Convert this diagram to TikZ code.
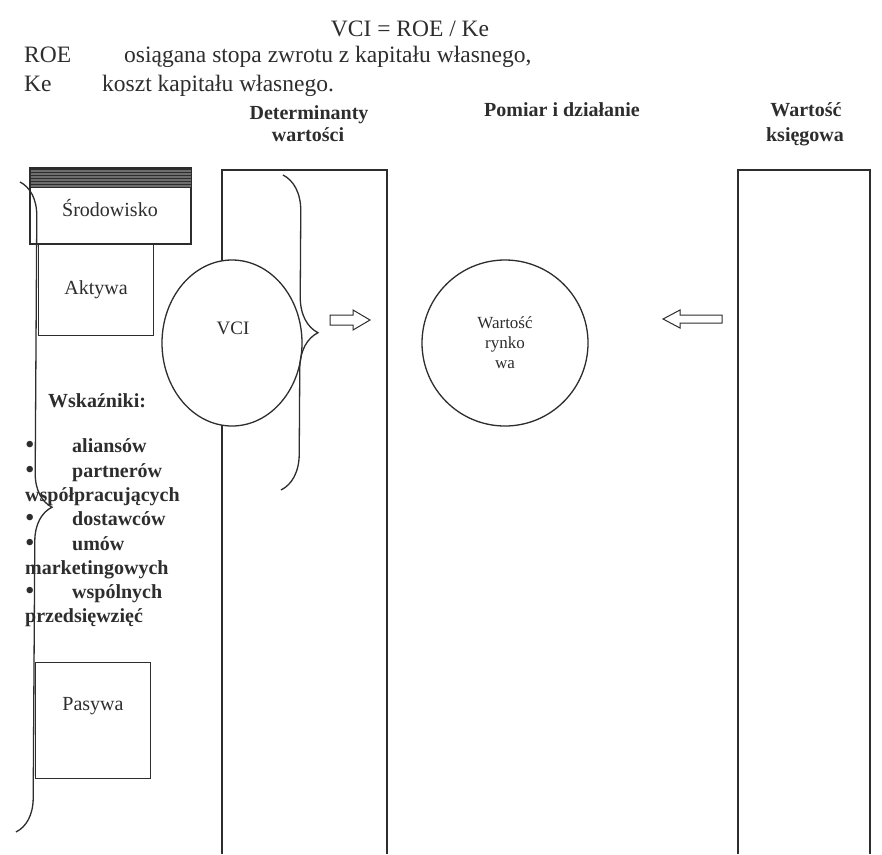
\documentclass[tikz,border=0pt]{standalone}
\usepackage{fontspec}
\setmainfont{Liberation Serif}
\usepackage{tikz}
\usetikzlibrary{
    shapes.geometric,
    positioning,
    calc,
    decorations.pathreplacing,
    patterns
}
\definecolor{inkgray}{RGB}{45, 45, 45}
\definecolor{hatchgray}{RGB}{110, 110, 110}
\tikzstyle{frame} = [
    draw=inkgray,
    line width=1.3pt
]
\tikzstyle{bigbrace} = [
    draw=inkgray,
    line width=1.3pt,
    decorate,
    decoration={brace, amplitude=34pt}
]
\tikzstyle{hollowarrow} = [
    draw=inkgray,
    line width=1pt,
    fill=white
]
\tikzstyle{legend} = [
    font=\fontsize{23.5}{26}\selectfont,
    text=inkgray,
    anchor=base west,
    inner sep=0pt
]
\tikzstyle{heading} = [
    font=\fontsize{20}{24}\selectfont\bfseries,
    text=inkgray,
    anchor=base,
    inner sep=0pt
]
\tikzstyle{boxtext} = [
    font=\fontsize{20}{24}\selectfont,
    text=inkgray,
    inner sep=0pt
]
\tikzstyle{listitem} = [
    font=\fontsize{20}{24}\selectfont\bfseries,
    text=inkgray,
    anchor=base west,
    inner sep=0pt
]
\tikzstyle{bulletmark} = [
    font=\fontsize{27}{24}\selectfont,
    text=inkgray,
    anchor=base west,
    inner sep=0pt
]

\begin{document}
\begin{tikzpicture}[x=1pt, y=-1pt]
    % Page
    \fill[white] (0,0) rectangle (882,854);
    \useasboundingbox (0,0) rectangle (882,854);

    % Formula and legend
    \node[font=\fontsize{23.5}{26}\selectfont, text=inkgray, anchor=base, inner sep=0pt] (formula) at (410,36) {VCI = ROE / Ke};
    \node[legend] (roe) at (24,62) {ROE};
    \node[legend] (roetext) at (124,62) {osiągana stopa zwrotu z kapitału własnego,};
    \node[legend] (ke) at (24,91) {Ke};
    \node[legend] (ketext) at (102,91) {koszt kapitału własnego.};

    % Column headings
    \node[heading] (drivers) at (309,119) {Determinanty};
    \node[heading] (drivers2) at (308,141) {wartości};
    \node[heading] (measure) at (562,116) {Pomiar i działanie};
    \node[heading] (book) at (806,116) {Wartość};
    \node[heading] (book2) at (805,141) {księgowa};

    % Columns
    \draw[frame] (222,854) -- (222,170) -- (387,170) -- (387,854);
    \draw[frame] (738,854) -- (738,170) -- (870,170) -- (870,854);

    % Environment box
    \node[frame, rectangle, anchor=north west, minimum width=160pt, minimum height=75pt, inner sep=0pt] (env) at (30,168) {};
    \fill[hatchgray] (env.north west) rectangle ($(env.north east)+(0,19)$);
    \fill[pattern=horizontal lines, pattern color=inkgray] (env.north west) rectangle ($(env.north east)+(0,19)$);
    \draw[frame] (env.north west) rectangle (env.south east);
    \node[boxtext] (envlabel) at (110,208) {Środowisko};

    % Assets and liabilities
    \node[frame, rectangle, boxtext, anchor=north west, minimum width=115pt, minimum height=92pt] (assets) at (38,243) {Aktywa};
    \node[frame, rectangle, anchor=north west, minimum width=115pt, minimum height=116pt, inner sep=0pt] (liab) at (35,662) {};
    \node[boxtext] (liablabel) at (93,706) {Pasywa};

    % Indicators
    \node[listitem] (indicators) at (48,407) {Wskaźniki:};
    \node[bulletmark] (bull1) at (25,453) {•};
    \node[listitem] (ally) at (72,452) {aliansów};
    \node[bulletmark] (bull2) at (25,478) {•};
    \node[listitem] (partner) at (72,477) {partnerów};
    \node[listitem] (partner2) at (25,501) {współpracujących};
    \node[bulletmark] (bull3) at (25,526) {•};
    \node[listitem] (supplier) at (72,525) {dostawców};
    \node[bulletmark] (bull4) at (25,551) {•};
    \node[listitem] (contract) at (72,550) {umów};
    \node[listitem] (contract2) at (25,574) {marketingowych};
    \node[bulletmark] (bull5) at (25,599) {•};
    \node[listitem] (venture) at (72,598) {wspólnych};
    \node[listitem] (venture2) at (25,622) {przedsięwzięć};

    % Outer brace
    \coordinate (outertop) at (20,182);
    \coordinate (outerbot) at (16,832);
    \draw[bigbrace] (outertop) -- (outerbot);

    % VCI
    \node[ellipse, frame, fill=white, minimum width=140pt, minimum height=166pt, inner sep=0pt] (vci) at (232,343) {};
    \node[boxtext, font=\fontsize{19}{22}\selectfont] (vcilabel) at (233,328) {VCI};

    % Inner brace
    \coordinate (innertop) at (283,175);
    \coordinate (innerbot) at (281,490);
    \draw[bigbrace, decoration={brace, amplitude=36pt}] (innertop) -- (innerbot);

    % Market value
    \node[circle, frame, minimum size=166pt, inner sep=0pt, align=center, text=inkgray, font=\fontsize{17}{20}\selectfont] (market) at (505,343) {Wartość\\rynko\\wa};

    % Block arrows
    \draw[hollowarrow] (330,315) -- (353,315) -- (353,310) -- (370,320) -- (353,330) -- (353,325) -- (330,325) -- cycle;
    \draw[hollowarrow] (722,315) -- (680,315) -- (680,310) -- (663,319) -- (680,328) -- (680,323) -- (722,323) -- cycle;
\end{tikzpicture}
\end{document}
